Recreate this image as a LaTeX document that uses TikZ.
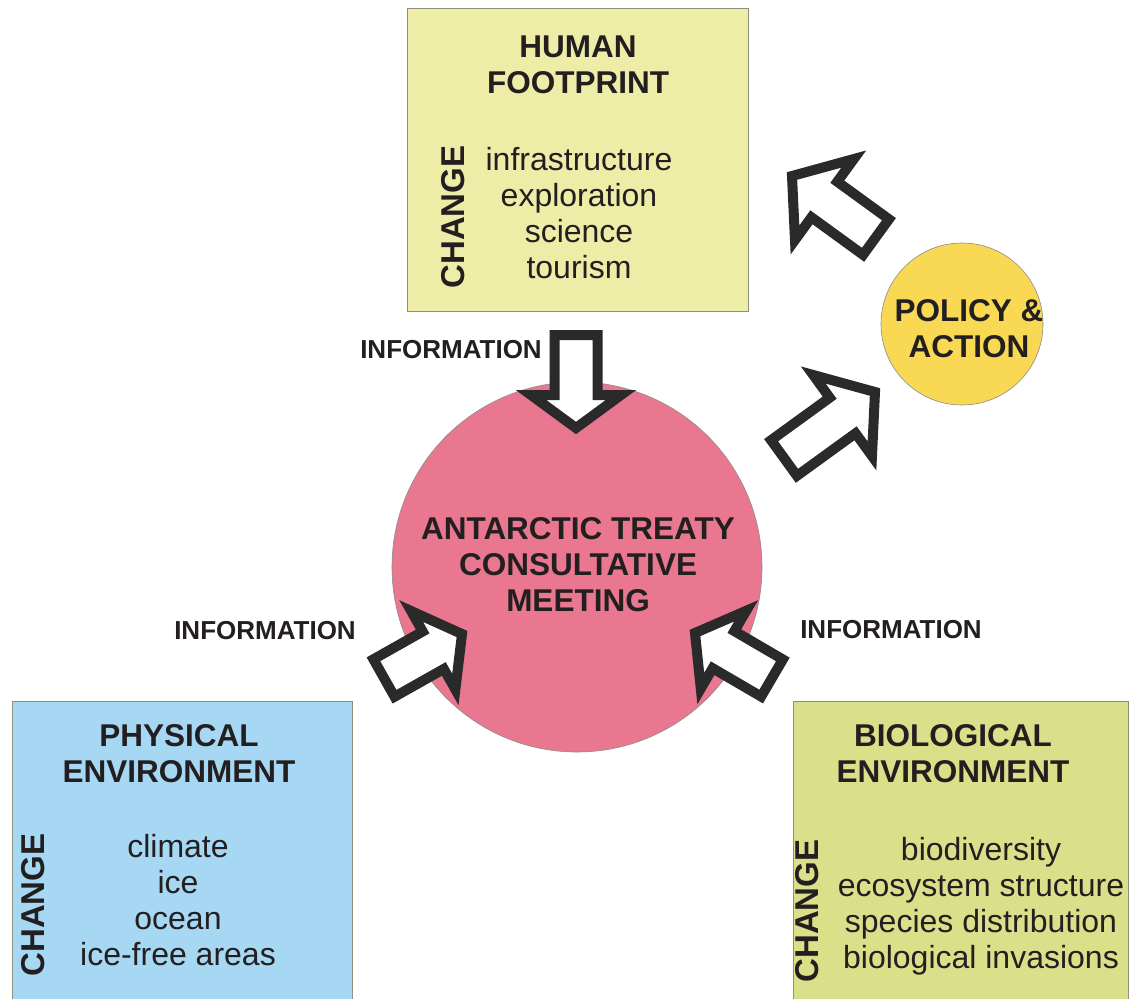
\documentclass[tikz,border=0pt]{standalone}
\usepackage{fontspec}
\setmainfont{Liberation Sans}
\usetikzlibrary{calc}
\definecolor{ink}{HTML}{231F20}
\definecolor{arrowink}{HTML}{2A2A2A}
\definecolor{hfill}{HTML}{EEEDA8}
\definecolor{pfill}{HTML}{A6D8F4}
\definecolor{bfill}{HTML}{DAE08A}
\definecolor{boxline}{HTML}{8F8F80}
\definecolor{pinkfill}{HTML}{E8778F}
\definecolor{goldfill}{HTML}{F9D854}
\tikzset{
  infobox/.style={draw=boxline, line width=0.8pt},
  titletext/.style={font=\fontsize{31.5}{36}\selectfont\bfseries, align=center, inner sep=0pt, text=ink},
  listtext/.style={font=\fontsize{32}{36}\selectfont, align=center, inner sep=0pt, text=ink},
  infotext/.style={font=\fontsize{26}{30}\selectfont\bfseries, inner sep=0pt, text=ink},
  changetext/.style={font=\fontsize{33}{36}\selectfont\bfseries, rotate=90, inner sep=0pt, text=ink},
  barrow/.style={draw=arrowink, fill=white, line width=10pt, line join=miter, miter limit=10},
}
% tail, tip, shaft half-width, head half-width, head length
\newcommand\myblockarrow[5]{%
  \coordinate (ba-b) at ($(#2)!#5!(#1)$);
  \draw[barrow] ($(#1)!#3!90:(#2)$) -- ($(ba-b)!#3!-90:(#1)$) -- ($(ba-b)!#4!-90:(#1)$)
    -- (#2) -- ($(ba-b)!#4!90:(#1)$) -- ($(ba-b)!#3!90:(#1)$) -- ($(#1)!#3!-90:(#2)$) -- cycle;
}
\begin{document}
\begin{tikzpicture}[x=1pt,y=-1pt]
\useasboundingbox (0,0) rectangle (1136,999);
\clip (0,0) rectangle (1136,999);
\fill[white] (0,0) rectangle (1136,999);

% boxes
\draw[infobox, fill=hfill] (407,8) rectangle (748,311);
\draw[infobox, fill=pfill] (12,701) rectangle (352,1010);
\draw[infobox, fill=bfill] (793,701) rectangle (1128,1010);

% circles
\node[circle, draw=black!45, line width=0.6pt, fill=pinkfill, minimum size=370pt, inner sep=0pt] (atcm) at (577,567) {};
\node[circle, draw=black!45, line width=0.6pt, fill=goldfill, minimum size=162pt, inner sep=0pt] (policy) at (962,324) {};

% human footprint
\node[titletext] (hf-title) at (578,65) {HUMAN\\FOOTPRINT};
\node[changetext] (hf-change) at (453,217) {CHANGE};
\node[listtext] (hf-list) at (579,217) {\strut infrastructure\\\strut exploration\\\strut science\\\strut tourism};

% physical environment
\node[titletext] (pe-title) at (179,754) {PHYSICAL\\ENVIRONMENT};
\node[changetext] (pe-change) at (33,905) {CHANGE};
\node[listtext] (pe-list) at (178,904) {\strut climate\\\strut ice\\\strut ocean\\\strut ice-free areas};

% biological environment
\node[titletext] (be-title) at (953,754) {BIOLOGICAL\\ENVIRONMENT};
\node[changetext] (be-change) at (807,911) {CHANGE};
\node[listtext] (be-list) at (981,907) {\strut biodiversity\\\strut ecosystem structure\\\strut species distribution\\\strut biological invasions};

% circle texts
\node[titletext] (atcm-text) at (578,565) {ANTARCTIC TREATY\\CONSULTATIVE\\MEETING};
\node[titletext] (policy-text) at (969,329) {POLICY \&\\ACTION};

% information labels
\node[infotext] (info-top) at (451,350) {INFORMATION};
\node[infotext] (info-left) at (265,631) {INFORMATION};
\node[infotext] (info-right) at (891,630) {INFORMATION};

% arrows
\coordinate (a-top-t) at (576,335);
\coordinate (a-top-h) at (576,428);
\coordinate (a-left-t) at (384,678);
\coordinate (a-left-h) at (462,634);
\coordinate (a-right-t) at (772,678);
\coordinate (a-right-h) at (695,633);
\coordinate (a-out-t) at (784,458);
\coordinate (a-out-h) at (875,392);
\coordinate (a-back-t) at (876,237);
\coordinate (a-back-h) at (792,176);

\myblockarrow{a-top-t}{a-top-h}{21.5pt}{45pt}{33pt}
\myblockarrow{a-left-t}{a-left-h}{21.5pt}{45pt}{33pt}
\myblockarrow{a-right-t}{a-right-h}{21.5pt}{45pt}{33pt}
\myblockarrow{a-out-t}{a-out-h}{22pt}{50pt}{40pt}
\myblockarrow{a-back-t}{a-back-h}{22pt}{50pt}{40pt}
\end{tikzpicture}
\end{document}
